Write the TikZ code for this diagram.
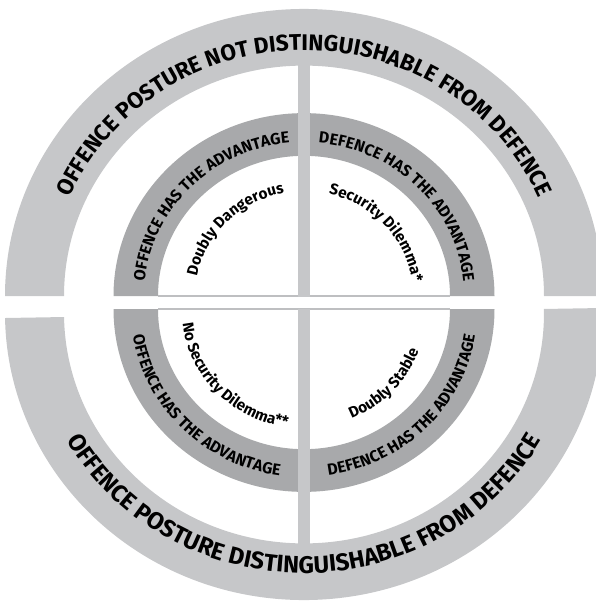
\documentclass[tikz,border=0pt]{standalone}
\usepackage{fontspec}
\setmainfont{Fira Sans}
\usetikzlibrary{decorations.text}

\definecolor{bandlight}{HTML}{C6C7C9}
\definecolor{banddark}{HTML}{A8A9AB}
\definecolor{splitline}{HTML}{BEBFC1}

\newcommand{\upperfont}{\bfseries\fontsize{17}{18}\selectfont}
\newcommand{\lowerfont}{\bfseries\fontsize{18}{19}\selectfont}
\newcommand{\bandfont}{\bfseries\fontsize{12}{13}\selectfont}
\newcommand{\cellfont}{\bfseries\fontsize{11.5}{12}\selectfont}

\begin{document}
\begin{tikzpicture}[x=0.75pt,y=0.75pt,
    outerband/.style={fill=bandlight},
    innerband/.style={fill=banddark},
    uppertext/.style={decorate,decoration={text along path,text align=center,text={|\upperfont|#1}}},
    lowertext/.style={decorate,decoration={text along path,text align=center,text={|\lowerfont|#1}}},
    bandtext/.style={decorate,decoration={text along path,text align=center,text={|\bandfont|#1}}},
    celltext/.style={decorate,decoration={text along path,text align=center,text={|\cellfont|#1}}}]

  \useasboundingbox (0,0) rectangle (596,-604);

  % Upper half: posture not distinguishable
  \begin{scope}[shift={(304,-296)},yscale=0.96]
    \fill[outerband] (180:299) arc[start angle=180,end angle=0,radius=299]
      -- (0:240) arc[start angle=0,end angle=180,radius=240] -- cycle;
    \fill[innerband] (180:190.5) arc[start angle=180,end angle=0,radius=190.5]
      -- (0:146) arc[start angle=0,end angle=180,radius=146] -- cycle;
    \draw[splitline,line width=1pt] (180:146) -- (0:146);
  \end{scope}

  % Lower half: posture distinguishable
  \begin{scope}[shift={(304,-313)},yscale=0.96]
    \fill[outerband] (181:299) arc[start angle=181,end angle=361,radius=299]
      -- (361:240) arc[start angle=361,end angle=181,radius=240] -- cycle;
  \end{scope}
  \begin{scope}[shift={(304,-309)},yscale=0.96]
    \fill[innerband] (180:190.5) arc[start angle=180,end angle=360,radius=190.5]
      -- (360:146) arc[start angle=360,end angle=180,radius=146] -- cycle;
    \draw[splitline,line width=1pt] (180:146) -- (0:146);
  \end{scope}

  % Vertical split
  \fill[bandlight] (298,-60) rectangle (310,-297);
  \fill[bandlight] (298,-309) rectangle (310,-550);

  % Labels, upper half
  \begin{scope}[shift={(304,-296)},yscale=0.96]
    \path[uppertext={OFFENCE POSTURE NOT DISTINGUISHABLE FROM DEFENCE}]
      (180:256) arc[start angle=180,end angle=0,radius=256];
    \path[bandtext={OFFENCE HAS THE ADVANTAGE}]
      (180:160) arc[start angle=180,end angle=90,radius=160];
    \path[bandtext={DEFENCE HAS THE ADVANTAGE}]
      (90:160) arc[start angle=90,end angle=0,radius=160];
    \path[celltext={Doubly Dangerous}]
      (180:109) arc[start angle=180,end angle=90,radius=109];
    \path[celltext={Security Dilemma*}]
      (84:109) arc[start angle=84,end angle=0,radius=109];
  \end{scope}

  % Labels, lower half
  \begin{scope}[shift={(304,-311)},yscale=0.96]
    \path[lowertext={OFFENCE POSTURE DISTINGUISHABLE FROM DEFENCE}]
      (180:273) arc[start angle=180,end angle=360,radius=273];
    \path[bandtext={OFFENCE HAS THE ADVANTAGE}]
      (180:173) arc[start angle=180,end angle=270,radius=173];
    \path[bandtext={DEFENCE HAS THE ADVANTAGE}]
      (270:173) arc[start angle=270,end angle=360,radius=173];
    \path[celltext={No Security Dilemma**}]
      (180:122) arc[start angle=180,end angle=268,radius=122];
    \path[celltext={Doubly Stable}]
      (270:122) arc[start angle=270,end angle=364,radius=122];
  \end{scope}

\end{tikzpicture}
\end{document}
